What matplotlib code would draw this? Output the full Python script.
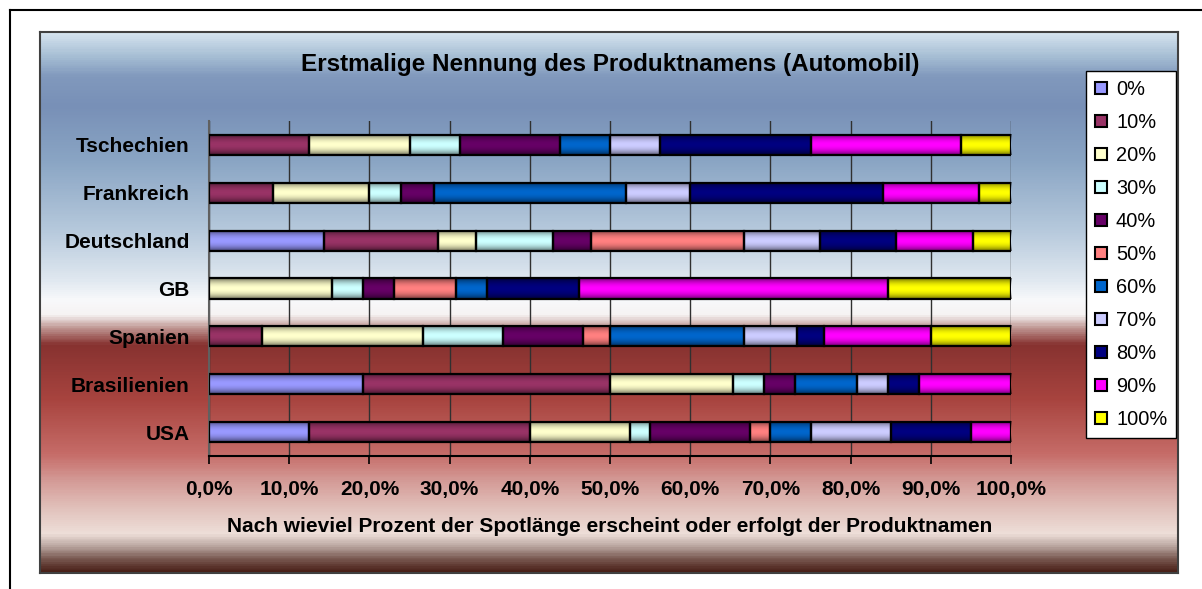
import numpy as np
import matplotlib
matplotlib.use('Agg')
import matplotlib.pyplot as plt
from matplotlib.colors import LinearSegmentedColormap
from matplotlib.lines import Line2D
from matplotlib.patches import Patch
from matplotlib.ticker import FuncFormatter

plt.rcParams['font.family'] = ['Liberation Sans', 'DejaVu Sans']

# chart data (top to bottom)
countries = ['Tschechien', 'Frankreich', 'Deutschland', 'GB', 'Spanien', 'Brasilienien', 'USA']
series = ['0%', '10%', '20%', '30%', '40%', '50%', '60%', '70%', '80%', '90%', '100%']
s0 = [0, 0, 14.29, 0, 0, 19.23, 12.5]
s10 = [12.5, 8, 14.29, 0, 6.67, 30.77, 27.5]
s20 = [12.5, 12, 4.76, 15.38, 20, 15.38, 12.5]
s30 = [6.25, 4, 9.52, 3.85, 10, 3.85, 2.5]
s40 = [12.5, 4, 4.76, 3.85, 10, 3.85, 12.5]
s50 = [0, 0, 19.05, 7.69, 3.33, 0, 2.5]
s60 = [6.25, 24, 0, 3.85, 16.67, 7.69, 5]
s70 = [6.25, 8, 9.52, 0, 6.67, 3.85, 10]
s80 = [18.75, 24, 9.52, 11.54, 3.33, 3.85, 10]
s90 = [18.75, 12, 9.52, 38.46, 13.33, 11.54, 5]
s100 = [6.25, 4, 4.76, 15.38, 10, 0, 0]
values = [s0, s10, s20, s30, s40, s50, s60, s70, s80, s90, s100]
colors = ['#9999FF', '#993366', '#FFFFCC', '#CCFFFF', '#660066', '#FF8080',
          '#0066CC', '#CCCCFF', '#000080', '#FF00FF', '#FFFF00']

W, H = 1202, 589
fig = plt.figure(figsize=(W / 100, H / 100), dpi=100)
fig.patch.set_facecolor('white')

# outer frame (only left and top visible)
fig.add_artist(Line2D([10 / W, 10 / W], [0, 1 - 10 / H], color='black', lw=1.5))
fig.add_artist(Line2D([10 / W, 1], [1 - 10 / H, 1 - 10 / H], color='black', lw=1.5))

# gradient panel
stops = [(0.0, '#d4e2ee'), (0.0425, '#a6bed4'), (0.0795, '#8199bd'), (0.135, '#7890b7'),
         (0.2366, '#8aa5c4'), (0.366, '#b6c9dc'), (0.458, '#e0e8f0'), (0.495, '#f8f9fb'),
         (0.523, '#f6f3f3'), (0.547, '#c09894'), (0.5786, '#873230'), (0.68, '#a8443f'),
         (0.782, '#c66c68'), (0.828, '#d39894'), (0.8835, '#e2c2bc'), (0.9298, '#eedfd9'),
         (0.9538, '#b8a49e'), (0.976, '#7a5a52'), (1.0, '#4a2018')]
bg_cmap = LinearSegmentedColormap.from_list('bg', stops)
bg = fig.add_axes([40 / W, 1 - 573 / H, (1178 - 40) / W, (573 - 32) / H], zorder=0)
bg.imshow(np.linspace(0, 1, 600).reshape(-1, 1), cmap=bg_cmap, aspect='auto',
          extent=(0, 1, 0, 1), origin='upper')
bg.set_xticks([])
bg.set_yticks([])
for sp in bg.spines.values():
    sp.set_color('#404040')
    sp.set_linewidth(1.5)

# plot area
ax = fig.add_axes([209 / W, 1 - 456 / H, (1011 - 209) / W, (456 - 121) / H], zorder=1)
ax.patch.set_alpha(0)

ypos = np.arange(len(countries))
bar_h = 0.42
t = np.linspace(0, 1, 40)
shade = np.zeros((40, 1, 4))
shade[:, 0, 3] = 0.55 * np.abs(2 * t - 1) ** 2.0

left = np.zeros(len(countries))
for vals, col in zip(values, colors):
    vals = np.array(vals, dtype=float)
    for i in range(len(countries)):
        if vals[i] <= 0:
            continue
        ax.barh(ypos[i], vals[i], left=left[i], height=bar_h, color=col,
                edgecolor='none', zorder=2)
        ax.imshow(shade, aspect='auto', zorder=3, interpolation='bilinear',
                  extent=(left[i], left[i] + vals[i], ypos[i] + bar_h / 2, ypos[i] - bar_h / 2))
        ax.barh(ypos[i], vals[i], left=left[i], height=bar_h, facecolor='none',
                edgecolor='black', linewidth=1.6, zorder=4)
    left += vals

ax.set_xlim(0, 100)
ax.set_ylim(len(countries) - 0.5, -0.5)
ax.set_xticks(np.arange(0, 101, 10))
ax.xaxis.set_major_formatter(FuncFormatter(lambda v, p: f'{v:.1f}%'.replace('.', ',')))
ax.set_yticks(ypos)
ax.set_yticklabels(countries)
ax.grid(axis='x', color='#303030', linewidth=1.0, zorder=1)
ax.set_axisbelow(True)
ax.tick_params(axis='x', direction='out', length=6, width=1.2, color='black', pad=11,
               labelsize=15)
ax.tick_params(axis='y', length=0, pad=14, labelsize=15)
for lab in ax.get_xticklabels() + ax.get_yticklabels():
    lab.set_fontweight('bold')
for s in ['top', 'right']:
    ax.spines[s].set_visible(False)
ax.spines['bottom'].set_color('black')
ax.spines['bottom'].set_linewidth(1.5)
ax.spines['left'].set_color('#606060')
ax.spines['left'].set_linewidth(1.5)

fig.text((209 + 1011) / 2 / W, 1 - 64 / H, 'Erstmalige Nennung des Produktnamens (Automobil)',
         ha='center', va='center', fontsize=17.5, fontweight='bold')
fig.text((209 + 1011) / 2 / W, 1 - 526 / H,
         'Nach wieviel Prozent der Spotlänge erscheint oder erfolgt der Produktnamen',
         ha='center', va='center', fontsize=15, fontweight='bold')

handles = [Patch(facecolor=c, edgecolor='black', linewidth=1.5) for c in colors]
leg = fig.legend(handles, series, loc='upper left', bbox_to_anchor=(1086 / W, 1 - 71 / H),
                 borderaxespad=0, frameon=True, fancybox=False, edgecolor='black',
                 framealpha=1, fontsize=14.4, handlelength=0.6, handleheight=0.6,
                 handletextpad=0.45, labelspacing=0.70, borderpad=0.45)
leg.get_frame().set_linewidth(1.0)
leg.set_zorder(5)

fig.savefig('out.png', dpi=100)
